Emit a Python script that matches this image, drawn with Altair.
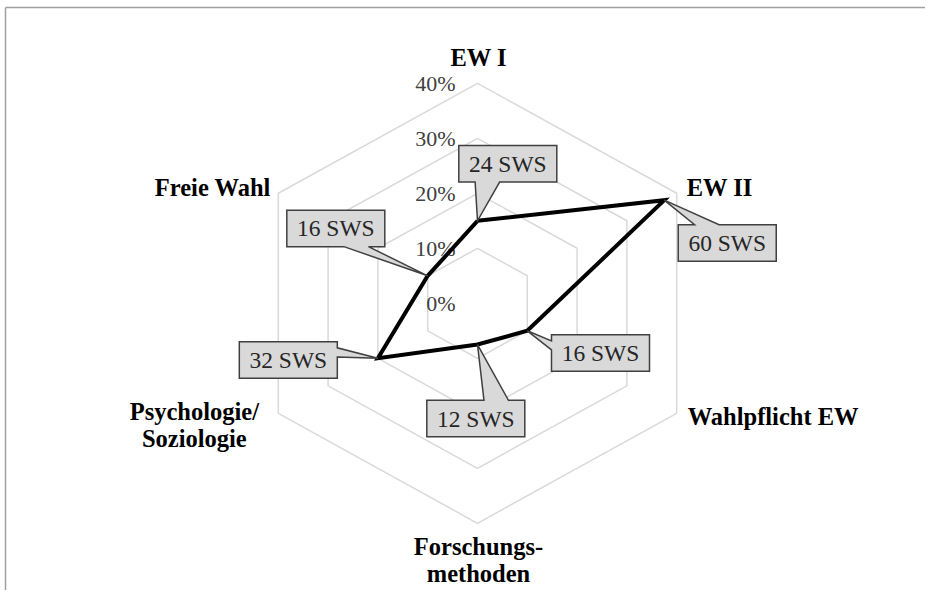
import math

import altair as alt
import pandas as pd

# ---- data -----------------------------------------------------------------
categories = ["EW I", "EW II", "Wahlpflicht EW", "Forschungsmethoden",
              "Psychologie/Soziologie", "Freie Wahl"]
category_lines = [["EW I"], ["EW II"], ["Wahlpflicht EW"],
                  ["Forschungs-", "methoden"], ["Psychologie/", "Soziologie"],
                  ["Freie Wahl"]]
sws = [24, 60, 16, 12, 32, 16]
grid_levels = [10, 20, 30, 40]
tick_levels = [0, 10, 20, 30, 40]
tick_labels = ["0%", "10%", "20%", "30%", "40%"]

total = sum(sws)
share = [v / total * 100 for v in sws]

# ---- layout ---------------------------------------------------------------
W, H = 925, 590
CX, CY = 477.5, 303.3          # pixel position of the radar centre
KX, KY = 5.75, 5.5             # pixels per percentage point
X_DOMAIN = [-CX / KX, (W - CX) / KX]
Y_DOMAIN = [-(H - CY) / KY, CY / KY]

SERIF = "Liberation Serif"
GRID = "#d9d9d9"


def polar(r, i):
    a = math.radians(60 * i)
    return r * math.sin(a), r * math.cos(a)


xs = alt.Scale(domain=X_DOMAIN, range=[0, W], nice=False, zero=False)
ys = alt.Scale(domain=Y_DOMAIN, range=[H, 0], nice=False, zero=False)
X = lambda f="x": alt.X(f"{f}:Q", scale=xs, axis=None)
Y = lambda f="y": alt.Y(f"{f}:Q", scale=ys, axis=None)

# grid hexagons
grid_rows = []
for lvl in grid_levels:
    for k in range(7):
        gx, gy = polar(lvl, k % 6)
        grid_rows.append({"level": lvl, "k": k, "x": gx, "y": gy})
grid = alt.Chart(pd.DataFrame(grid_rows)).mark_line(
    color=GRID, strokeWidth=1.5
).encode(x=X(), y=Y(), detail="level:N", order="k:Q")

# series polygon
series_rows = []
for k in range(7):
    i = k % 6
    px, py = polar(share[i], i)
    series_rows.append({"k": k, "cat": categories[i], "x": px, "y": py})
series_df = pd.DataFrame(series_rows)
series = alt.Chart(series_df).mark_line(
    color="black", strokeWidth=4, strokeJoin="miter"
).encode(x=X(), y=Y(), order="k:Q")

# value-axis labels along the top spoke
tick_df = pd.DataFrame({"x": [0.0] * len(tick_levels), "y": tick_levels,
                        "label": tick_labels})
ticks = alt.Chart(tick_df).mark_text(
    align="right", baseline="alphabetic", dx=-22, dy=8,
    font=SERIF, fontSize=22, color="#404040"
).encode(x=X(), y=Y(), text="label:N")

# category labels: anchored at the outer vertex, offset outward
cat_style = [
    dict(align="center", dx=1, dy=-17),
    dict(align="left", dx=10, dy=3),
    dict(align="left", dx=11, dy=12),
    dict(align="center", dx=1, dy=32),
    dict(align="center", dx=-84, dy=7),
    dict(align="right", dx=-8, dy=3),
]
cat_layers = []
for i, name in enumerate(categories):
    vx, vy = polar(grid_levels[-1], i)
    df = pd.DataFrame({"x": [vx], "y": [vy], "label": [category_lines[i]]})
    cat_layers.append(
        alt.Chart(df).mark_text(
            baseline="alphabetic", font=SERIF, fontSize=24.5,
            fontWeight="bold", color="black", lineHeight=26.7, **cat_style[i]
        ).encode(x=X(), y=Y(), text="label")
    )

# data-label callouts: box centre offset (px) from the data point
BOX_W, BOX_H = 98, 36.5
box_offset = [(30.3, -57.0), (63.0, 42.7), (73.2, 22.2),
              (-1.7, 74.0), (-89.6, 1.7), (-91.9, -47.4)]


def callout_path(bx, by, w, h):
    L, R, T, B = bx - w / 2, bx + w / 2, by - h / 2, by + h / 2
    dxp, dyp = -bx, -by
    dz = abs(dyp) - abs(dxp * h / w)
    x1 = L + w * (7 if dxp > 0 else 2) / 12
    x2 = L + w * (10 if dxp > 0 else 5) / 12
    y1 = T + h * (7 if dyp > 0 else 2) / 12
    y2 = T + h * (10 if dyp > 0 else 5) / 12
    side = ("bottom" if dyp > 0 else "top") if dz > 0 else \
           ("right" if dxp > 0 else "left")
    p = [(L, T)]
    if side == "top":
        p += [(x1, T), (0, 0), (x2, T)]
    p += [(R, T)]
    if side == "right":
        p += [(R, y1), (0, 0), (R, y2)]
    p += [(R, B)]
    if side == "bottom":
        p += [(x2, B), (0, 0), (x1, B)]
    p += [(L, B)]
    if side == "left":
        p += [(L, y2), (0, 0), (L, y1)]
    return "M" + "L".join(f"{a:.2f},{b:.2f}" for a, b in p) + "Z"


pts = series_df.iloc[:6].copy()
pts["path"] = [callout_path(bx, by, BOX_W, BOX_H) for bx, by in box_offset]
pts["text"] = [f"{v} SWS" for v in sws]
boxes = alt.Chart(pts).mark_point(
    filled=True, fill="#d9d9d9", stroke="#404040", strokeWidth=1.5,
    opacity=1, size=4
).encode(x=X(), y=Y(), shape=alt.Shape("path:N", scale=None))

label_layers = []
for i in range(6):
    bx, by = box_offset[i]
    label_layers.append(
        alt.Chart(pts.iloc[[i]]).mark_text(
            align="center", baseline="alphabetic", dx=bx, dy=by + 8,
            font=SERIF, fontSize=23.5, color="#262626"
        ).encode(x=X(), y=Y(), text="text:N")
    )

# outer frame (top and left edges)
frame_top = alt.Chart(pd.DataFrame({"a": [0]})).mark_rule(
    color="#a0a0a0", strokeWidth=1.5
).encode(x=alt.value(5.5), x2=alt.value(W), y=alt.value(7.5))
frame_left = alt.Chart(pd.DataFrame({"a": [0]})).mark_rule(
    color="#a0a0a0", strokeWidth=1.5
).encode(x=alt.value(5.5), y=alt.value(7.5), y2=alt.value(H))

chart = alt.layer(
    frame_top, frame_left, grid, ticks, series, boxes,
    *label_layers, *cat_layers
).properties(
    width=W, height=H, padding=0,
    autosize=alt.AutoSizeParams(type="none"),
    background="white",
).configure_view(stroke=None)

chart.save("out.html", embed_options={"renderer": "svg", "actions": False})
